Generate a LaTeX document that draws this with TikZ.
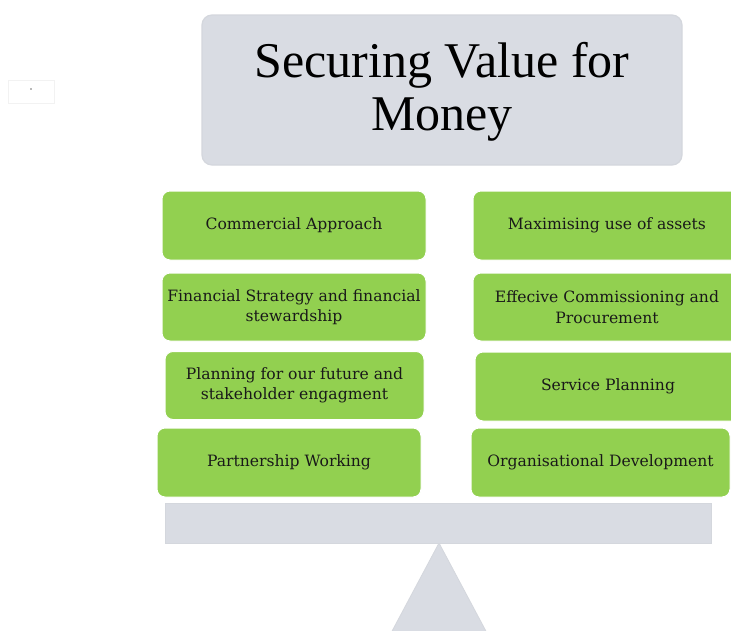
\documentclass[tikz,border=0pt]{standalone}
\usepackage{fontspec}
\setmainfont{Liberation Serif}
\newfontfamily\boxfont{DejaVu Serif}
\definecolor{panelgrey}{HTML}{D9DCE3}
\definecolor{paneledge}{HTML}{D4D7DD}
\definecolor{leafgreen}{HTML}{92D050}
\tikzset{
  titlebox/.style={rectangle, rounded corners=10pt, fill=panelgrey, draw=paneledge, line width=1.2pt,
    minimum width=480pt, minimum height=150pt, inner sep=0pt},
  titletext/.style={align=center, inner sep=0pt, font=\fontsize{50}{53}\selectfont},
  greenbox/.style={rectangle, rounded corners=8pt, fill=leafgreen, draw=white, line width=1pt,
    align=center, inner sep=0pt, text=black!90, font=\boxfont\fontsize{15.6}{20.5}\selectfont},
  greybar/.style={fill=panelgrey, draw=paneledge, line width=0.8pt}
}
\begin{document}
\begin{tikzpicture}[x=1pt,y=1pt]
\clip (0,0) rectangle (731,-630);
\fill[white] (0,0) rectangle (731,-630);

% small stray box at top-left
\node[rectangle, draw=black!5, fill=white, line width=1pt, minimum width=46pt, minimum height=23pt, inner sep=0pt] (stray) at (31,-91.5) {};
\node[circle, fill=black!55, minimum size=1.6pt, inner sep=0pt] (dot) at (31,-89) {};

% title
\node[titlebox] (title) at (442,-90) {};
\node[titletext] (titlelabel) at (442,-92) {Securing Value for\\Money};

% left column
\node[greenbox, minimum width=264pt, minimum height=69pt] (c1) at (294,-225.5) {Commercial Approach};
\node[greenbox, minimum width=264pt, minimum height=68pt] (c2) at (294,-307) {Financial Strategy and financial\\stewardship};
\node[greenbox, minimum width=259pt, minimum height=68pt] (c3) at (294.5,-385.5) {Planning for our future and\\stakeholder engagment};
\node[greenbox, minimum width=264pt, minimum height=69pt] (c4) at (289,-462.5) {Partnership Working};

% right column
\node[greenbox, minimum width=268pt, minimum height=69pt] (r1) at (607,-225.5) {Maximising use of assets};
\node[greenbox, minimum width=268pt, minimum height=68pt] (r2) at (607,-307) {Effecive Commissioning and\\Procurement};
\node[greenbox, minimum width=266pt, minimum height=69pt] (r3) at (608,-386.5) {Service Planning};
\node[greenbox, minimum width=259pt, minimum height=69pt] (r4) at (600.5,-462.5) {Organisational Development};

% balance: fulcrum and beam
\coordinate (apex) at (439,-543);
\coordinate (baseL) at (382,-650);
\coordinate (baseR) at (496,-650);
\draw[greybar] (apex) -- (baseR) -- (baseL) -- cycle;
\node[greybar, rectangle, minimum width=546pt, minimum height=40pt, inner sep=0pt] (beam) at (438,-523) {};
\end{tikzpicture}
\end{document}
